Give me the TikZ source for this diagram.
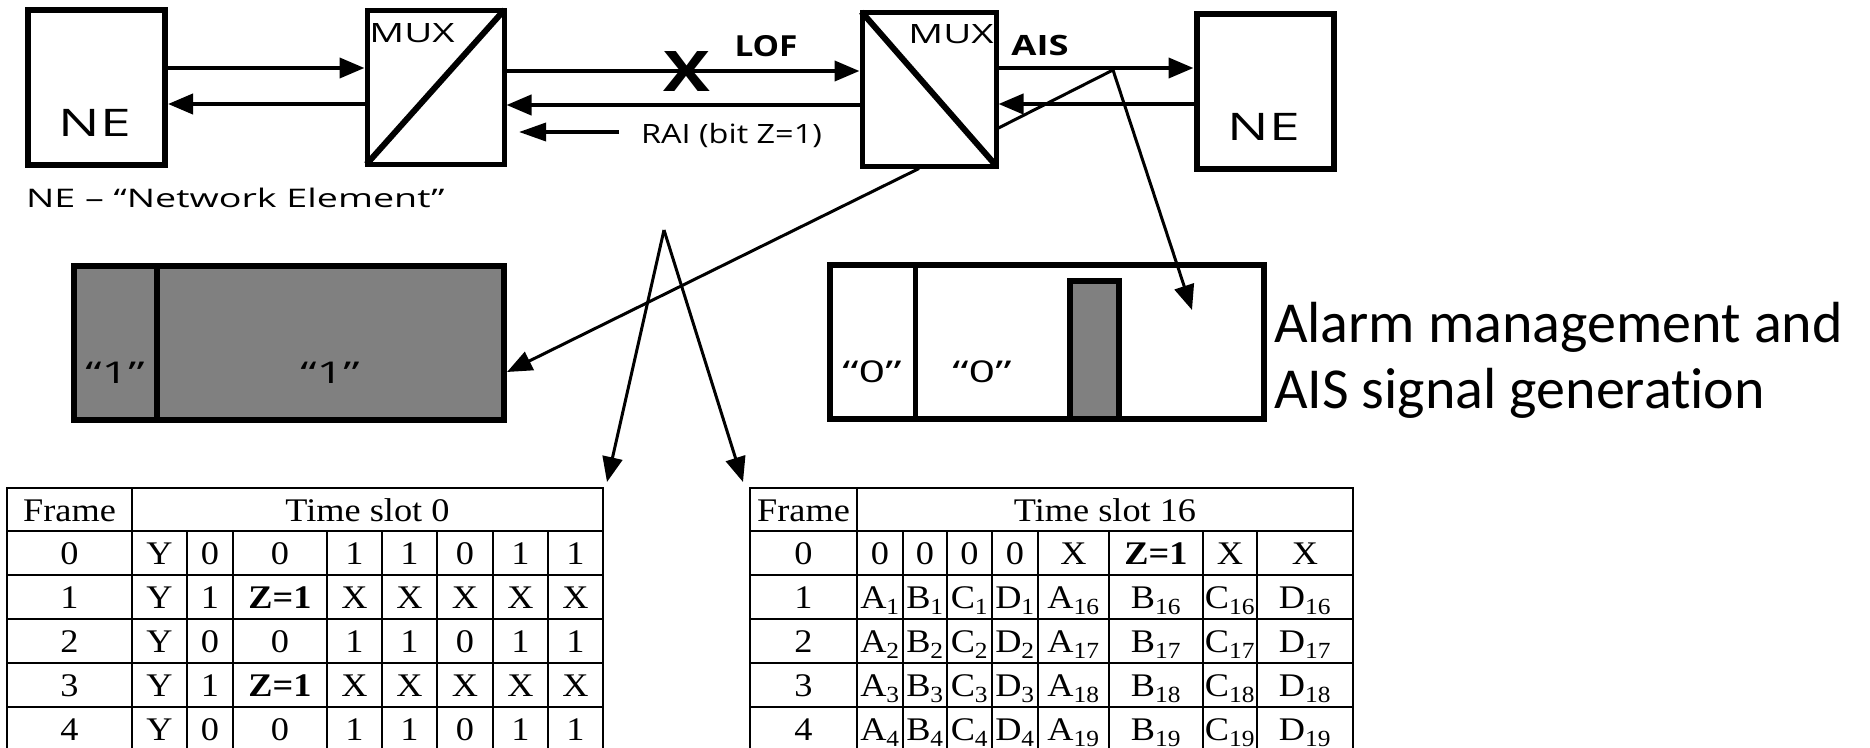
\documentclass[tikz,border=0pt]{standalone}
\usepackage{fontspec}
\usepackage{graphicx}
\setmainfont{Liberation Serif}
\newfontfamily\osans{Open Sans}
\newfontfamily\calib[Ligatures=NoCommon]{Carlito}
\usetikzlibrary{arrows.meta,calc}
\definecolor{graybox}{RGB}{128,128,128}
\newcommand{\sx}[2]{\scalebox{#1}[1]{#2}}
\newcommand{\tabfont}{\fontsize{33}{36}\selectfont}
\newcommand{\lrow}[9]{%
  \pgfmathsetmacro{\tabY}{564+44*#1}%
  \node[cell] (L#1-0) at (69.5,\tabY) {\sx{1.1}{#1}};
  \node[cell] (L#1-1) at (159.5,\tabY) {\sx{1.1}{#2}};
  \node[cell] (L#1-2) at (210,\tabY) {\sx{1.1}{#3}};
  \node[cell] (L#1-3) at (280,\tabY) {\sx{1.1}{#4}};
  \node[cell] (L#1-4) at (354.5,\tabY) {\sx{1.1}{#5}};
  \node[cell] (L#1-5) at (409.5,\tabY) {\sx{1.1}{#6}};
  \node[cell] (L#1-6) at (465,\tabY) {\sx{1.1}{#7}};
  \node[cell] (L#1-7) at (520.5,\tabY) {\sx{1.1}{#8}};
  \node[cell] (L#1-8) at (575.5,\tabY) {\sx{1.1}{#9}};
}
\newcommand{\rrow}[9]{%
  \pgfmathsetmacro{\tabY}{564+44*#1}%
  \node[cell] (R#1-0) at (803.5,\tabY) {\sx{1.1}{#1}};
  \node[cell] (R#1-1) at (880,\tabY) {\sx{1.1}{#2}};
  \node[cell] (R#1-2) at (925,\tabY) {\sx{1.1}{#3}};
  \node[cell] (R#1-3) at (969.5,\tabY) {\sx{1.1}{#4}};
  \node[cell] (R#1-4) at (1015,\tabY) {\sx{1.1}{#5}};
  \node[cell] (R#1-5) at (1073.5,\tabY) {\sx{1.1}{#6}};
  \node[cell] (R#1-6) at (1156,\tabY) {\sx{1.1}{#7}};
  \node[cell] (R#1-7) at (1230,\tabY) {\sx{1.1}{#8}};
  \node[cell] (R#1-8) at (1305,\tabY) {\sx{1.1}{#9}};
}
\newcommand{\sbs}[2]{#1\textsubscript{#2}}
\begin{document}
\begin{tikzpicture}[x=1pt,y=-1pt,
  nebox/.style={draw,line width=6pt,minimum width=137pt,minimum height=155pt,inner sep=0pt},
  muxbox/.style={draw,line width=5pt,minimum width=137pt,minimum height=154pt,inner sep=0pt},
  diag/.style={line width=6pt,shorten <=3pt,shorten >=3pt},
  arr/.style={line width=4pt,-{Triangle[length=25pt,width=20pt]}},
  rarr/.style={line width=3.5pt,-{Triangle[length=27pt,width=18pt]}},
  ptr/.style={line width=3pt,-{Triangle[length=25pt,width=20pt]}},
  lbl/.style={inner sep=0pt,outer sep=0pt},
  cell/.style={inner sep=0pt,anchor=base,font=\tabfont},
  tline/.style={line width=2pt},
  bar/.style={draw,line width=6pt,inner sep=0pt},
]
\useasboundingbox (0,0) rectangle (1870,747);
\clip (0,0) rectangle (1870,747);

% ---- top row: network elements and multiplexers
\node[nebox] (ne1) at (96.5,87) {};
\node[lbl,font=\osans\fontsize{38}{40}\selectfont] (ne1t) at (95,123) {\sx{1.45}{NE}};
\node[muxbox] (mux1) at (435.5,87) {};
\draw[diag] (mux1.south west) -- (mux1.north east);
\node[lbl,font=\osans\fontsize{26.6}{28}\selectfont] (mux1t) at (412,33) {\sx{1.45}{MUX}};
\node[muxbox,minimum width=134pt] (mux2) at (929,89) {};
\draw[diag] (mux2.north west) -- (mux2.south east);
\node[lbl,font=\osans\fontsize{26.6}{28}\selectfont] (mux2t) at (951,34) {\sx{1.45}{MUX}};
\node[nebox] (ne2) at (1265,91) {};
\node[lbl,font=\osans\fontsize{38}{40}\selectfont] (ne2t) at (1264,127) {\sx{1.45}{NE}};

\draw[arr] (ne1.east |- 0,68) -- (mux1.west |- 0,68);
\draw[arr] (mux1.west |- 0,104) -- (ne1.east |- 0,104);
\draw[arr] (mux1.east |- 0,71) -- (mux2.west |- 0,71);
\draw[arr] (mux2.west |- 0,105) -- (mux1.east |- 0,105);
\draw[arr] (mux2.east |- 0,68) -- (ne2.west |- 0,68);
\draw[arr] (ne2.west |- 0,104) -- (mux2.east |- 0,104);

\node[lbl,font=\osans\bfseries\fontsize{56}{60}\selectfont] (lofx) at (687,72) {\sx{1.25}{X}};
\node[lbl,font=\osans\bfseries\fontsize{29}{32}\selectfont] (lof) at (766,46) {\sx{1.15}{LOF}};
\node[lbl,font=\osans\bfseries\fontsize{28}{30}\selectfont] (ais) at (1040,45) {\sx{1.3}{AIS}};
\node[lbl,anchor=base west,font=\osans\fontsize{26.6}{28}\selectfont] (rai) at (641,143) {\sx{1.22}{RAI (bit Z=1)}};
\coordinate (raitip) at (519,132);
\draw[rarr] ($(rai.west |- raitip)+(-22,0)$) -- (raitip);

\node[lbl,anchor=west,font=\osans\fontsize{25.6}{28}\selectfont] (caption) at (26,198) {\sx{1.47}{NE – “Network Element”}};

% ---- frame boxes
\node[bar,fill=graybox,minimum width=430pt,minimum height=154pt] (g1) at (289,343) {};
\draw[line width=6pt] (g1.north -| 157,0) -- (g1.south -| 157,0);
\node[lbl,font=\osans\fontsize{30}{32}\selectfont] (g1a) at (115,373) {\sx{1.55}{“1”}};
\node[lbl,font=\osans\fontsize{30}{32}\selectfont] (g1b) at (330,373) {\sx{1.55}{“1”}};

\node[bar,minimum width=434pt,minimum height=154pt] (w1) at (1047,342) {};
\draw[line width=5pt] (w1.north -| 915,0) -- (w1.south -| 915,0);
\node[bar,fill=graybox,minimum width=49pt,minimum height=138pt] (w1bar) at (1094.5,350) {};
\node[lbl,font=\osans\fontsize{30}{32}\selectfont] (w1a) at (872,372) {\sx{1.55}{“0”}};
\node[lbl,font=\osans\fontsize{30}{32}\selectfont] (w1b) at (982,372) {\sx{1.55}{“0”}};

\node[lbl,anchor=base west,font=\calib\fontsize{58}{66}\selectfont] (alarm1) at (1274,342) {Alarm management and};
\node[lbl,anchor=base west,font=\calib\fontsize{58}{66}\selectfont] (alarm2) at (1274,408) {AIS signal generation};

% ---- pointers
\draw[ptr] (mux2.south -| 919,0) -- (g1.east |- 0,372);
\coordinate (bend) at (1113,70);
\coordinate (wtip) at (1192,310);
\draw[ptr] (mux2.east |- 0,128) -- (bend) -- (wtip);
\coordinate (apex) at (664,230);
\coordinate (tipL) at (607,482);
\coordinate (tipR) at (743,482);
\draw[ptr] (apex) -- (tipL);
\draw[ptr] (apex) -- (tipR);

% ---- left table
\draw[tline] (7,488) rectangle (603,760);
\foreach \yy in {531,575,619,663,707,751} \draw[tline] (7,\yy) -- (603,\yy);
\draw[tline] (132,488) -- (132,760);
\foreach \xx in {187,233,327,382,437,493,548} \draw[tline] (\xx,531) -- (\xx,760);
\node[cell] (LH0) at (69.5,521) {\sx{1.1}{Frame}};
\node[cell] (LH1) at (367.5,521) {\sx{1.1}{Time slot 0}};
\lrow{0}{Y}{0}{0}{1}{1}{0}{1}{1}
\lrow{1}{Y}{1}{\textbf{Z=1}}{X}{X}{X}{X}{X}
\lrow{2}{Y}{0}{0}{1}{1}{0}{1}{1}
\lrow{3}{Y}{1}{\textbf{Z=1}}{X}{X}{X}{X}{X}
\lrow{4}{Y}{0}{0}{1}{1}{0}{1}{1}

% ---- right table
\draw[tline] (750,488) rectangle (1353,760);
\foreach \yy in {531,575,619,663,707,751} \draw[tline] (750,\yy) -- (1353,\yy);
\draw[tline] (857,488) -- (857,760);
\foreach \xx in {903,947,992,1038,1109,1203,1257} \draw[tline] (\xx,531) -- (\xx,760);
\node[cell] (RH0) at (803.5,521) {\sx{1.1}{Frame}};
\node[cell] (RH1) at (1105,521) {\sx{1.1}{Time slot 16}};
\rrow{0}{0}{0}{0}{0}{X}{\textbf{Z=1}}{X}{X}
\rrow{1}{\sbs{A}{1}}{\sbs{B}{1}}{\sbs{C}{1}}{\sbs{D}{1}}{\sbs{A}{16}}{\sbs{B}{16}}{\sbs{C}{16}}{\sbs{D}{16}}
\rrow{2}{\sbs{A}{2}}{\sbs{B}{2}}{\sbs{C}{2}}{\sbs{D}{2}}{\sbs{A}{17}}{\sbs{B}{17}}{\sbs{C}{17}}{\sbs{D}{17}}
\rrow{3}{\sbs{A}{3}}{\sbs{B}{3}}{\sbs{C}{3}}{\sbs{D}{3}}{\sbs{A}{18}}{\sbs{B}{18}}{\sbs{C}{18}}{\sbs{D}{18}}
\rrow{4}{\sbs{A}{4}}{\sbs{B}{4}}{\sbs{C}{4}}{\sbs{D}{4}}{\sbs{A}{19}}{\sbs{B}{19}}{\sbs{C}{19}}{\sbs{D}{19}}
\end{tikzpicture}
\end{document}
